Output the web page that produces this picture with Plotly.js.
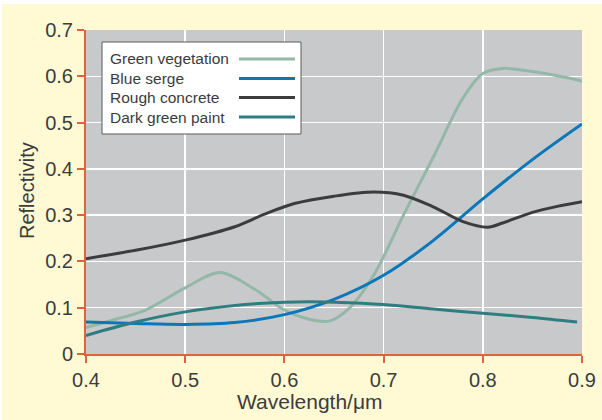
<!DOCTYPE html>
<html>
<head>
<meta charset="utf-8">
<script src="https://cdn.plot.ly/plotly-3.0.1.min.js"></script>
<style>
  html, body { margin: 0; padding: 0; background: #ffffff; }
  #chart { position: absolute; left: 2px; top: 4px; width: 600px; height: 416px; }
</style>
</head>
<body>
<div id="chart"></div>
<script>
// ---- Data ----
const seriesNames = ["Green vegetation", "Blue serge", "Rough concrete", "Dark green paint"];
const seriesColors = ["#94b8a8", "#0a78b8", "#3c3c3e", "#2f7d80"];

const vegX = [0.40,0.43,0.46,0.50,0.535,0.57,0.60,0.625,0.645,0.665,0.69,0.72,0.75,0.78,0.80,0.82,0.86,0.90];
const vegY = [0.057,0.075,0.095,0.143,0.176,0.140,0.095,0.075,0.071,0.098,0.170,0.300,0.425,0.553,0.606,0.617,0.607,0.590];

const sergeX = [0.40,0.45,0.50,0.55,0.60,0.65,0.70,0.75,0.80,0.85,0.90];
const sergeY = [0.069,0.066,0.064,0.068,0.085,0.118,0.170,0.245,0.335,0.420,0.497];

const concreteX = [0.40,0.45,0.50,0.55,0.58,0.61,0.65,0.69,0.72,0.75,0.78,0.805,0.82,0.85,0.875,0.90];
const concreteY = [0.206,0.224,0.246,0.275,0.302,0.325,0.341,0.350,0.343,0.318,0.286,0.274,0.283,0.306,0.319,0.329];

const paintX = [0.40,0.45,0.50,0.55,0.60,0.625,0.65,0.70,0.75,0.80,0.85,0.895];
const paintY = [0.040,0.069,0.091,0.105,0.112,0.113,0.112,0.107,0.097,0.088,0.079,0.069];

const xTickVals = [0.4,0.5,0.6,0.7,0.8,0.9];
const yTickVals = [0,0.1,0.2,0.3,0.4,0.5,0.6,0.7];
const xTitle = "Wavelength/μm";
const yTitle = "Reflectivity";

// ---- Layout geometry (pixels inside the chart div) ----
const W = 600, H = 416;
const M = { l: 84, r: 20, t: 26, b: 66 };
const plotW = W - M.l - M.r, plotH = H - M.t - M.b;
const px = x => (x - M.l) / plotW;          // div px -> paper x
const py = y => 1 - (y - M.t) / plotH;      // div px -> paper y

const xs = [vegX, sergeX, concreteX, paintX];
const ys = [vegY, sergeY, concreteY, paintY];

const traces = seriesNames.map((name, i) => ({
  type: "scatter",
  mode: "lines",
  name: name,
  x: xs[i],
  y: ys[i],
  line: { color: seriesColors[i], width: 3, shape: "spline", smoothing: 0.9 },
  showlegend: false,
  hoverinfo: "skip"
}));

const textColor = "#3c3c3c";
const font = "Liberation Sans, Arial, Helvetica, sans-serif";
const axisColor = "#de6440";

// custom legend: text on left, line sample on right, inside a white box
const legBox = { x0: 100, x1: 299, y0: 38, y1: 130 };
const legRows = [55, 74.5, 93.5, 113];
const shapes = [{
  type: "rect", xref: "paper", yref: "paper",
  x0: px(legBox.x0), x1: px(legBox.x1), y0: py(legBox.y1), y1: py(legBox.y0),
  fillcolor: "#ffffff", line: { color: "#5a5a5a", width: 1 }, layer: "above"
}];
const annotations = [];
seriesNames.forEach((name, i) => {
  shapes.push({
    type: "line", xref: "paper", yref: "paper",
    x0: px(237), x1: px(293), y0: py(legRows[i]), y1: py(legRows[i]),
    line: { color: seriesColors[i], width: 3 }, layer: "above"
  });
  annotations.push({
    xref: "paper", yref: "paper", x: px(106), y: py(legRows[i]),
    xanchor: "left", yanchor: "middle", showarrow: false,
    text: name, font: { family: font, size: 15.5, color: textColor }
  });
});
annotations.push({
  xref: "paper", yref: "paper", x: px(308), y: py(397),
  xanchor: "center", yanchor: "middle", showarrow: false,
  text: xTitle, font: { family: font, size: 21, color: textColor }
});
annotations.push({
  xref: "paper", yref: "paper", x: px(25), y: py(187),
  xanchor: "center", yanchor: "middle", showarrow: false, textangle: -90,
  text: yTitle, font: { family: font, size: 20, color: textColor }
});

const layout = {
  width: W, height: H,
  margin: M,
  paper_bgcolor: "#fffad4",
  plot_bgcolor: "#c8c9cb",
  font: { family: font, color: textColor, size: 20 },
  showlegend: false,
  xaxis: {
    range: [0.4, 0.9],
    tickvals: xTickVals,
    ticktext: xTickVals.map(v => v.toFixed(1)),
    showgrid: true, gridcolor: "#ffffff", gridwidth: 1.5,
    zeroline: false,
    showline: true, linecolor: axisColor, linewidth: 2,
    ticks: "outside", ticklen: 7, tickwidth: 2, tickcolor: axisColor,
    tickfont: { family: font, size: 20, color: textColor },
    fixedrange: true
  },
  yaxis: {
    range: [0, 0.7],
    tickvals: yTickVals,
    ticktext: yTickVals.map(v => v === 0 ? "0" : v.toFixed(1)),
    showgrid: true, gridcolor: "#ffffff", gridwidth: 1.5,
    zeroline: false,
    showline: true, linecolor: axisColor, linewidth: 2,
    ticks: "outside", ticklen: 7, tickwidth: 2, tickcolor: axisColor,
    tickfont: { family: font, size: 20, color: textColor },
    fixedrange: true
  },
  shapes: shapes,
  annotations: annotations
};

Plotly.newPlot("chart", traces, layout, { displayModeBar: false, staticPlot: true });
</script>
</body>
</html>
